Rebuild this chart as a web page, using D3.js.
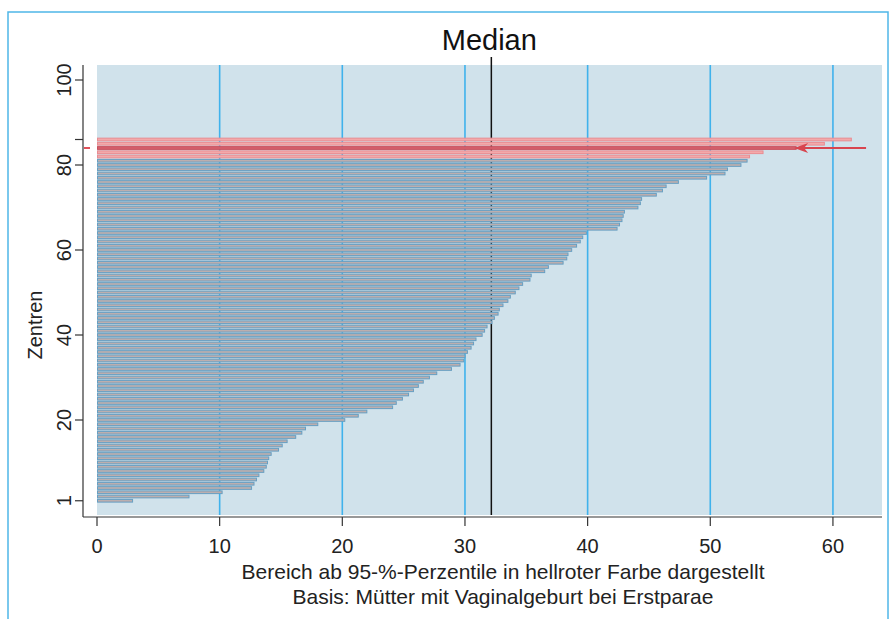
<!DOCTYPE html>
<html>
<head>
<meta charset="utf-8">
<script src="https://cdn.jsdelivr.net/npm/d3@7"></script>
<style>
  body { margin: 0; background: #fff; }
  svg { display: block; font-family: "Liberation Sans", Arial, sans-serif; }
</style>
</head>
<body>
<script>
// values per centre (centre 1 = first entry), sorted ascending
const centreValues = [
  2.9, 7.5, 10.2, 12.6, 12.8, 13.0, 13.2, 13.6, 13.8, 13.9,
  14.0, 14.2, 14.8, 15.1, 15.5, 16.2, 16.7, 17.0, 18.0, 20.2,
  21.3, 22.0, 24.1, 24.4, 24.9, 25.4, 25.8, 26.2, 26.6, 27.1,
  27.7, 28.9, 29.6, 29.9, 30.0, 30.2, 30.5, 30.7, 30.9, 31.4,
  31.6, 31.8, 32.2, 32.4, 32.7, 32.8, 33.1, 33.5, 33.7, 34.1,
  34.4, 34.7, 35.3, 35.4, 36.5, 36.8, 38.0, 38.3, 38.4, 38.7,
  39.1, 39.4, 39.6, 39.9, 42.4, 42.6, 42.8, 42.9, 43.0, 44.1,
  44.3, 44.4, 45.6, 46.1, 46.4, 47.4, 49.7, 51.2, 51.4, 52.5,
  53.0, 53.2, 54.3, 57.0, 59.3, 61.5
];
const firstRedCentre = 82;      // ab 95%-Perzentile
const ownCentre = 84;           // hervorgehobenes Zentrum
const ownCentreLineEnd = 62.7;
const medianValue = 32.15;

const xTicks = [0, 10, 20, 30, 40, 50, 60];
const yTicks = [1, 20, 40, 60, 80, 100];
const yExtraTicks = [86];

const width = 892, height = 619;
const plot = { left: 97, right: 882, top: 65, bottom: 515 };

const x = d3.scaleLinear().domain([0, 64]).range([plot.left, plot.right]);
const y = d3.scaleLinear().domain([0, 100]).range([505, 80]);

const svg = d3.select("body").append("svg")
  .attr("width", width)
  .attr("height", height);

// outer frame
svg.append("rect")
  .attr("x", 8).attr("y", 12)
  .attr("width", 880).attr("height", 640)
  .attr("fill", "none")
  .attr("stroke", "#4fb6e8")
  .attr("stroke-width", 1.5);

// plot background
svg.append("rect")
  .attr("x", plot.left).attr("y", plot.top)
  .attr("width", plot.right - plot.left)
  .attr("height", plot.bottom - plot.top)
  .attr("fill", "#d0e2eb");

// vertical grid lines
svg.append("g")
  .selectAll("line")
  .data(xTicks.filter(d => d > 0))
  .join("line")
    .attr("x1", d => x(d)).attr("x2", d => x(d))
    .attr("y1", plot.top).attr("y2", plot.bottom)
    .attr("stroke", "#3fb2ec")
    .attr("stroke-width", 1.6);

// median line (behind bars)
svg.append("line")
  .attr("x1", x(medianValue)).attr("x2", x(medianValue))
  .attr("y1", 57).attr("y2", plot.bottom)
  .attr("stroke", "#111")
  .attr("stroke-width", 1.5);

svg.append("text")
  .attr("x", x(medianValue) - 2)
  .attr("y", 50)
  .attr("text-anchor", "middle")
  .attr("font-size", 29)
  .attr("fill", "#111")
  .text("Median");

// bars
const barH = 2.7;
const bars = centreValues.map((v, i) => ({ centre: i + 1, value: v }));

svg.append("g")
  .selectAll("rect")
  .data(bars)
  .join("rect")
    .attr("x", x(0) + 0.5)
    .attr("y", d => y(d.centre) - barH / 2)
    .attr("width", d => x(d.value) - x(0) - 0.5)
    .attr("height", barH)
    .attr("fill", d => d.centre === ownCentre ? "#d6606b"
      : d.centre >= firstRedCentre ? "#f3a9aa" : "#bcaeae")
    .attr("stroke", d => d.centre === ownCentre ? "#c84f5c"
      : d.centre >= firstRedCentre ? "#e98c92" : "#679fc2")
    .attr("stroke-width", 1);

// own centre: line with arrow head
const yo = y(ownCentre);
svg.append("line")
  .attr("x1", x(centreValues[ownCentre - 1])).attr("x2", x(ownCentreLineEnd))
  .attr("y1", yo).attr("y2", yo)
  .attr("stroke", "#d8454f")
  .attr("stroke-width", 2);
const ax = x(centreValues[ownCentre - 1]);
svg.append("path")
  .attr("d", `M${ax - 2},${yo} L${ax + 12},${yo - 5} L${ax + 8},${yo} L${ax + 12},${yo + 5} Z`)
  .attr("fill", "#d8454f");

// y axis
const gy = svg.append("g");
gy.append("line")
  .attr("x1", 83).attr("x2", 83)
  .attr("y1", plot.top).attr("y2", 517)
  .attr("stroke", "#333").attr("stroke-width", 1.2);
gy.selectAll(".tick")
  .data(yTicks.concat(yExtraTicks))
  .join("line")
    .attr("x1", 75).attr("x2", 83)
    .attr("y1", d => y(d)).attr("y2", d => y(d))
    .attr("stroke", "#333").attr("stroke-width", 1.2);
gy.append("line")
  .attr("x1", 84).attr("x2", 90)
  .attr("y1", y(ownCentre)).attr("y2", y(ownCentre))
  .attr("stroke", "#e0505a").attr("stroke-width", 2);
gy.selectAll("text")
  .data(yTicks)
  .join("text")
    .attr("transform", d => `translate(71,${y(d)}) rotate(-90)`)
    .attr("text-anchor", "middle")
    .attr("font-size", 20)
    .attr("fill", "#222")
    .text(d => d);
svg.append("text")
  .attr("transform", `translate(42,325) rotate(-90)`)
  .attr("text-anchor", "middle")
  .attr("font-size", 20)
  .attr("fill", "#222")
  .text("Zentren");

// x axis
const gx = svg.append("g");
gx.append("line")
  .attr("x1", 83).attr("x2", plot.right)
  .attr("y1", 517).attr("y2", 517)
  .attr("stroke", "#333").attr("stroke-width", 1.2);
gx.selectAll(".tick")
  .data(xTicks)
  .join("line")
    .attr("x1", d => x(d)).attr("x2", d => x(d))
    .attr("y1", 517).attr("y2", 526)
    .attr("stroke", "#333").attr("stroke-width", 1.2);
gx.selectAll("text")
  .data(xTicks)
  .join("text")
    .attr("x", d => x(d))
    .attr("y", 553)
    .attr("text-anchor", "middle")
    .attr("font-size", 20)
    .attr("fill", "#222")
    .text(d => d);

svg.append("text")
  .attr("x", 503).attr("y", 579)
  .attr("text-anchor", "middle")
  .attr("font-size", 21)
  .attr("fill", "#222")
  .text("Bereich ab 95-%-Perzentile in hellroter Farbe dargestellt");
svg.append("text")
  .attr("x", 503).attr("y", 604)
  .attr("text-anchor", "middle")
  .attr("font-size", 21)
  .attr("fill", "#222")
  .text("Basis: Mütter mit Vaginalgeburt bei Erstparae");
</script>
</body>
</html>
